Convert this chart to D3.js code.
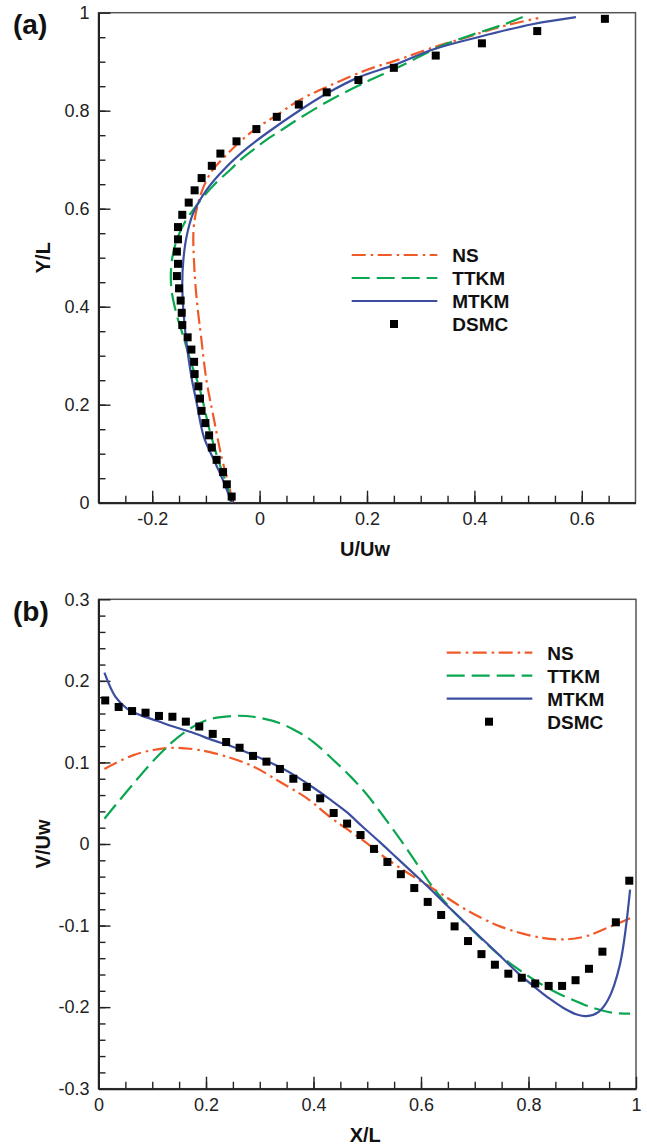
<!DOCTYPE html>
<html>
<head>
<meta charset="utf-8">
<title>Velocity profiles</title>
<script src="https://cdn.jsdelivr.net/npm/d3@7"></script>
<style>
body { margin: 0; background: #fff; }
svg { display: block; font-family: "Liberation Sans", Arial, sans-serif; }
.tick text { font-size: 18px; fill: #222; }
.axis path, .axis line { stroke: #222; }
.axis .tick line { stroke-width: 1.4; }
.axis path.domain { stroke-width: 2; }
.legend text { font-size: 19px; font-weight: bold; fill: #111; }
.title { font-size: 20px; font-weight: bold; fill: #111; }
.panel { font-size: 28px; font-weight: bold; fill: #111; }
</style>
</head>
<body>
<div id="chart"></div>
<script>

// ---------- panel (a): U/Uw along vertical centreline, pairs [U, Y] ----------
var nsA = [[-0.051,0],[-0.055,0.026],[-0.071,0.094],[-0.086,0.176],[-0.099,0.25],[-0.109,0.339],
  [-0.117,0.414],[-0.122,0.489],[-0.123,0.557],[-0.117,0.6],[-0.106,0.64],[-0.090,0.675],
  [-0.066,0.705],[-0.040,0.733],[-0.010,0.761],[0.032,0.791],[0.075,0.822],[0.128,0.85],
  [0.199,0.883],[0.261,0.905],[0.323,0.929],[0.386,0.95],[0.448,0.971],[0.519,0.989]];

var ttkmA = [[-0.053,0],[-0.058,0.026],[-0.077,0.087],[-0.093,0.148],[-0.111,0.23],[-0.127,0.284],
  [-0.142,0.339],[-0.155,0.386],[-0.164,0.434],[-0.165,0.475],[-0.161,0.509],[-0.152,0.543],
  [-0.139,0.573],[-0.124,0.597],[-0.105,0.624],[-0.082,0.652],[-0.055,0.679],[-0.035,0.70],
  [-0.012,0.72],[0.012,0.74],[0.040,0.76],[0.075,0.785],[0.137,0.825],[0.199,0.859],
  [0.261,0.89],[0.336,0.931],[0.404,0.958],[0.46,0.978],[0.492,0.992]];

var mtkmA = [[-0.052,0],[-0.066,0.04],[-0.082,0.08],[-0.104,0.135],[-0.117,0.203],[-0.127,0.257],
  [-0.136,0.325],[-0.142,0.393],[-0.144,0.448],[-0.142,0.495],[-0.136,0.543],[-0.124,0.59],
  [-0.099,0.638],[-0.061,0.686],[-0.024,0.723],[0.013,0.754],[0.075,0.801],[0.125,0.835],
  [0.184,0.868],[0.25,0.893],[0.323,0.925],[0.41,0.951],[0.51,0.977],[0.589,0.991]];

var dsmcA_y = [0.0125,0.0375,0.0625,0.0875,0.1125,0.1375,0.1625,0.1875,0.2125,0.2375,
  0.2625,0.2875,0.3125,0.3375,0.3625,0.3875,0.4125,0.4375,0.4625,0.4875,
  0.5125,0.5375,0.5625,0.5875,0.6125,0.6375,0.6625,0.6875,0.7125,0.7375,
  0.7625,0.7875,0.8125,0.8375,0.8625,0.8875,0.9125,0.9375,0.9625,0.9875];
var dsmcA_u = [-0.052,-0.061,-0.068,-0.080,-0.089,-0.094,-0.101,-0.108,-0.111,-0.114,
  -0.121,-0.122,-0.127,-0.134,-0.144,-0.145,-0.147,-0.150,-0.154,-0.152,
  -0.154,-0.152,-0.152,-0.144,-0.132,-0.121,-0.108,-0.089,-0.073,-0.043,
  -0.006,0.032,0.073,0.125,0.184,0.250,0.328,0.414,0.517,0.643];

// ---------- panel (b): V/Uw along horizontal centreline, pairs [X, V] ----------
var nsB = [[0.011,0.092],[0.065,0.109],[0.109,0.116],[0.146,0.118],[0.189,0.115],[0.239,0.107],
  [0.288,0.095],[0.338,0.076],[0.388,0.056],[0.431,0.033],[0.493,0.004],[0.536,-0.018],
  [0.586,-0.040],[0.635,-0.060],[0.685,-0.081],[0.747,-0.101],[0.809,-0.113],[0.859,-0.117],
  [0.902,-0.114],[0.946,-0.103],[0.989,-0.091]];

var ttkmB = [[0.011,0.031],[0.065,0.074],[0.115,0.111],[0.158,0.136],[0.202,0.152],[0.251,0.157],
  [0.288,0.156],[0.338,0.148],[0.375,0.136],[0.4,0.125],[0.437,0.103],[0.47,0.082],
  [0.5,0.060],[0.53,0.034],[0.561,0.006],[0.59,-0.022],[0.623,-0.054],[0.655,-0.079],
  [0.685,-0.099],[0.72,-0.121],[0.747,-0.137],[0.78,-0.153],[0.809,-0.166],[0.84,-0.178],
  [0.871,-0.188],[0.9,-0.196],[0.921,-0.201],[0.958,-0.207],[0.989,-0.208]];

var mtkmB = [[0.011,0.21],[0.031,0.181],[0.053,0.166],[0.078,0.158],[0.109,0.151],[0.139,0.144],
  [0.177,0.136],[0.214,0.127],[0.251,0.119],[0.288,0.109],[0.338,0.094],[0.37,0.082],
  [0.4,0.069],[0.43,0.055],[0.462,0.039],[0.49,0.022],[0.524,0.002],[0.555,-0.017],
  [0.586,-0.036],[0.617,-0.055],[0.648,-0.075],[0.68,-0.095],[0.71,-0.114],[0.747,-0.137],
  [0.78,-0.158],[0.809,-0.174],[0.84,-0.190],[0.865,-0.201],[0.89,-0.209],[0.908,-0.211],
  [0.93,-0.206],[0.948,-0.191],[0.97,-0.148],[0.989,-0.056]];

var dsmcB_x = [0.0125,0.0375,0.0625,0.0875,0.1125,0.1375,0.1625,0.1875,0.2125,0.2375,
  0.2625,0.2875,0.3125,0.3375,0.3625,0.3875,0.4125,0.4375,0.4625,0.4875,
  0.5125,0.5375,0.5625,0.5875,0.6125,0.6375,0.6625,0.6875,0.7125,0.7375,
  0.7625,0.7875,0.8125,0.8375,0.8625,0.8875,0.9125,0.9375,0.9625,0.9875];
var dsmcB_v = [0.176,0.168,0.163,0.161,0.157,0.156,0.150,0.144,0.135,0.125,
  0.118,0.108,0.101,0.092,0.080,0.070,0.056,0.038,0.025,0.011,
  -0.006,-0.022,-0.037,-0.054,-0.071,-0.087,-0.101,-0.119,-0.135,-0.148,
  -0.159,-0.164,-0.171,-0.174,-0.174,-0.167,-0.153,-0.132,-0.096,-0.045];

// tick labels
var xTicksA = [-0.2, 0, 0.2, 0.4, 0.6];
var yTicksA = [0, 0.2, 0.4, 0.6, 0.8, 1];
var xTicksB = [0, 0.2, 0.4, 0.6, 0.8, 1];
var yTicksB = [-0.3, -0.2, -0.1, 0, 0.1, 0.2, 0.3];

var names = ['NS', 'TTKM', 'MTKM', 'DSMC'];
var colors = {NS: '#f05a28', TTKM: '#0ba650', MTKM: '#3b4ea0', DSMC: '#000'};
var dashes = {NS: '14,5,2.5,4.5', TTKM: '18,7', MTKM: null};

var W = 647, H = 1147;
var svg = d3.select('#chart').append('svg')
  .attr('width', W)
  .attr('height', H);

var fmt = function(d) { return String(Math.round(d * 100) / 100); };

var drawPanel = function(cfg) {
  var w = cfg.right - cfg.left,
      h = cfg.bottom - cfg.top;
  var x = d3.scaleLinear().domain(cfg.xDomain).range([0, w]);
  var y = d3.scaleLinear().domain(cfg.yDomain).range([h, 0]);

  var g = svg.append('g')
    .attr('transform', 'translate(' + cfg.left + ',' + cfg.top + ')');

  // frame (top / right)
  g.append('rect')
    .attr('width', w)
    .attr('height', h)
    .attr('fill', 'none')
    .attr('stroke', '#555')
    .attr('stroke-width', 1.5);

  // minor ticks
  var xMinor = d3.range(cfg.xDomain[0], cfg.xDomain[1] + 1e-9, cfg.xMinorStep)
    .filter(function(v) { return v > cfg.xDomain[0] + 1e-9 && v < cfg.xDomain[1] - 1e-9; });
  var yMinor = d3.range(cfg.yDomain[0], cfg.yDomain[1] + 1e-9, cfg.yMinorStep)
    .filter(function(v) { return v > cfg.yDomain[0] + 1e-9 && v < cfg.yDomain[1] - 1e-9; });

  var gxm = g.append('g').attr('class', 'axis')
    .attr('transform', 'translate(0,' + h + ')')
    .call(d3.axisBottom(x).tickValues(xMinor).tickSize(-7).tickSizeOuter(0).tickFormat(''));
  gxm.select('.domain').remove();
  var gym = g.append('g').attr('class', 'axis')
    .call(d3.axisLeft(y).tickValues(yMinor).tickSize(-7).tickSizeOuter(0).tickFormat(''));
  gym.select('.domain').remove();

  // major ticks + labels
  g.append('g').attr('class', 'axis')
    .attr('transform', 'translate(0,' + h + ')')
    .call(d3.axisBottom(x).tickValues(cfg.xTicks).tickSize(-12).tickSizeOuter(0)
      .tickPadding(10).tickFormat(fmt));
  g.append('g').attr('class', 'axis')
    .call(d3.axisLeft(y).tickValues(cfg.yTicks).tickSize(-12).tickSizeOuter(0)
      .tickPadding(9).tickFormat(fmt));

  // curves
  var line = d3.line()
    .x(function(d) { return x(d[0]); })
    .y(function(d) { return y(d[1]); })
    .curve(d3.curveCatmullRom.alpha(0.5));

  ['NS', 'TTKM', 'MTKM'].forEach(function(name) {
    g.append('path')
      .datum(cfg.series[name])
      .attr('fill', 'none')
      .attr('stroke', colors[name])
      .attr('stroke-width', 2.2)
      .attr('stroke-dasharray', dashes[name])
      .attr('d', line);
  });

  // DSMC squares
  var s = 8;
  g.selectAll('.dsmc')
    .data(cfg.series.DSMC)
    .enter()
    .append('rect')
    .attr('class', 'dsmc')
    .attr('x', function(d) { return x(d[0]) - s / 2; })
    .attr('y', function(d) { return y(d[1]) - s / 2; })
    .attr('width', s)
    .attr('height', s)
    .attr('fill', '#000');

  // legend
  var lg = svg.append('g').attr('class', 'legend');
  var rowH = 23;
  names.forEach(function(name, i) {
    var ly = cfg.legend.y + i * rowH;
    if (name === 'DSMC') {
      lg.append('rect')
        .attr('x', (cfg.legend.x0 + cfg.legend.x1) / 2 - s / 2 - 0.5)
        .attr('y', ly - s / 2)
        .attr('width', s)
        .attr('height', s)
        .attr('fill', '#000');
    } else {
      lg.append('line')
        .attr('x1', cfg.legend.x0)
        .attr('x2', cfg.legend.x1)
        .attr('y1', ly)
        .attr('y2', ly)
        .attr('stroke', colors[name])
        .attr('stroke-width', 2.2)
        .attr('stroke-dasharray', dashes[name]);
    }
    lg.append('text')
      .attr('x', cfg.legend.tx)
      .attr('y', ly)
      .attr('dy', '0.36em')
      .text(name);
  });

  // titles
  svg.append('text')
    .attr('class', 'title')
    .attr('text-anchor', 'middle')
    .attr('x', cfg.left + w / 2 - 2)
    .attr('y', cfg.bottom + 53)
    .text(cfg.xTitle);
  svg.append('text')
    .attr('class', 'title')
    .attr('text-anchor', 'middle')
    .attr('transform', 'translate(50,' + (cfg.top + h / 2) + ') rotate(-90)')
    .text(cfg.yTitle);
  svg.append('text')
    .attr('class', 'panel')
    .attr('x', 13)
    .attr('y', cfg.top + 21.5)
    .text(cfg.tag);
};

drawPanel({
  left: 98.5, right: 635.5, top: 12.7, bottom: 502.7,
  xDomain: [-0.3, 0.7], yDomain: [0, 1],
  xTicks: xTicksA, yTicks: yTicksA, xMinorStep: 0.05, yMinorStep: 0.05,
  series: {
    NS: nsA, TTKM: ttkmA, MTKM: mtkmA,
    DSMC: dsmcA_u.map(function(u, i) { return [u, dsmcA_y[i]]; })
  },
  legend: {x0: 351.7, x1: 437.3, tx: 452.3, y: 255},
  xTitle: 'U/Uw', yTitle: 'Y/L', tag: '(a)'
});

drawPanel({
  left: 98.5, right: 636, top: 599.3, bottom: 1088.7,
  xDomain: [0, 1], yDomain: [-0.3, 0.3],
  xTicks: xTicksB, yTicks: yTicksB, xMinorStep: 0.05, yMinorStep: 0.02,
  series: {
    NS: nsB, TTKM: ttkmB, MTKM: mtkmB,
    DSMC: dsmcB_x.map(function(xv, i) { return [xv, dsmcB_v[i]]; })
  },
  legend: {x0: 446.7, x1: 532.3, tx: 547.3, y: 652.7},
  xTitle: 'X/L', yTitle: 'V/Uw', tag: '(b)'
});
</script>
</body>
</html>
